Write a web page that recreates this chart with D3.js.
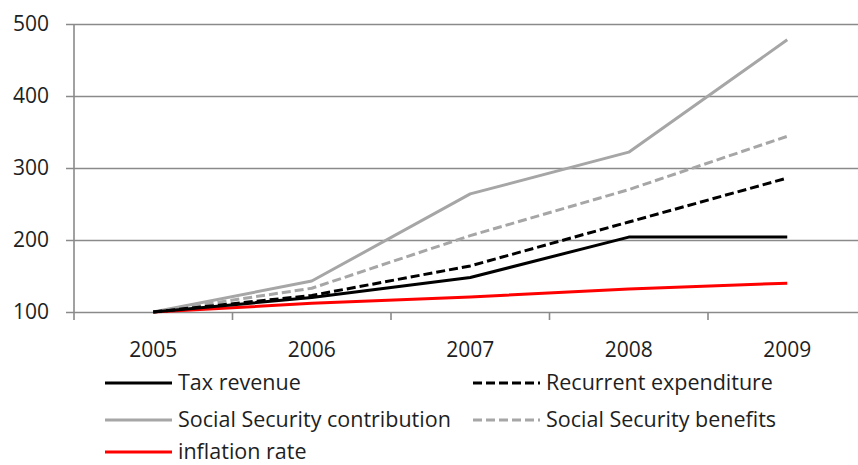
<!DOCTYPE html>
<html>
<head>
<meta charset="utf-8">
<script src="https://cdn.jsdelivr.net/npm/d3@7/dist/d3.min.js"></script>
<style>
  html, body { margin: 0; padding: 0; background: #fff; }
  svg { display: block; }
  text { font-family: "Open Sans", "DejaVu Sans", sans-serif; fill: #1e1e1e; }
</style>
</head>
<body>
<svg id="chart" width="858" height="465"></svg>
<script>
// Years on the category axis
const years = ["2005", "2006", "2007", "2008", "2009"];

// Index values (2005 = 100)
const taxRevenue = [100, 120, 148, 204, 204];
const recurrentExpenditure = [100, 123, 164, 225, 286];
const ssContribution = [100, 143, 264, 322, 478];
const ssBenefits = [100, 133, 206, 270, 344];
const inflationRate = [100, 112, 121, 132, 140];

const yTicks = [100, 200, 300, 400, 500];

const series = [
  { name: "Tax revenue", values: taxRevenue, color: "#000000", dash: null },
  { name: "Recurrent expenditure", values: recurrentExpenditure, color: "#000000", dash: "9,4" },
  { name: "Social Security contribution", values: ssContribution, color: "#a6a6a6", dash: null },
  { name: "Social Security benefits", values: ssBenefits, color: "#a6a6a6", dash: "9,4" },
  { name: "inflation rate", values: inflationRate, color: "#ff0000", dash: null }
];

const svg = d3.select("#chart");
const m = { left: 74, right: 866.5, top: 24, bottom: 312 };

const x = d3.scaleBand().domain(years).range([m.left, m.right]);
const y = d3.scaleLinear().domain([100, 500]).range([m.bottom, m.top]);

// Horizontal gridlines with short tick stubs to the left
const yAxis = d3.axisLeft(y).tickValues(yTicks).tickSize(-(m.right - m.left)).tickPadding(16).tickFormat(d3.format("d"));
const gy = svg.append("g").attr("transform", `translate(${m.left},0)`).call(yAxis);
gy.select(".domain").remove();
gy.selectAll(".tick line").attr("stroke", "#8a8a8a").attr("stroke-width", 1.6).attr("x1", -8);
gy.selectAll(".tick text").attr("font-size", 21).attr("x", -25).style("font-family", "'Open Sans', sans-serif").attr("fill", "#1e1e1e");

// Vertical axis line
svg.append("line").attr("x1", m.left).attr("x2", m.left).attr("y1", m.top).attr("y2", m.bottom + 8)
  .attr("stroke", "#8a8a8a").attr("stroke-width", 1.6);

// Category axis: ticks sit on band boundaries, labels at band centres
const xAxis = d3.axisBottom(x).tickSize(0).tickPadding(30);
const gx = svg.append("g").attr("transform", `translate(0,${m.bottom})`).call(xAxis);
gx.select(".domain").remove();
gx.selectAll(".tick text").attr("font-size", 21).style("font-family", "'Open Sans', sans-serif").attr("fill", "#1e1e1e");
svg.append("g").selectAll("line").data(years)
  .join("line")
  .attr("x1", d => x(d) + x.bandwidth())
  .attr("x2", d => x(d) + x.bandwidth())
  .attr("y1", m.bottom).attr("y2", m.bottom + 8)
  .attr("stroke", "#8a8a8a").attr("stroke-width", 1.6);

// Series lines
const line = d3.line().x((d, i) => x(years[i]) + x.bandwidth() / 2).y(d => y(d));
svg.append("g").selectAll("path").data(series.slice().reverse())
  .join("path")
  .attr("d", d => line(d.values))
  .attr("fill", "none")
  .attr("stroke", d => d.color)
  .attr("stroke-width", 3)
  .attr("stroke-dasharray", d => d.dash)
  .attr("stroke-linejoin", "round");

// Legend, two columns
const legendPos = [
  { lx: 105, ly: 383 }, { lx: 473, ly: 383 },
  { lx: 105, ly: 420 }, { lx: 473, ly: 420 },
  { lx: 105, ly: 452 }
];
const lg = svg.append("g").selectAll("g").data(series).join("g")
  .attr("transform", (d, i) => `translate(${legendPos[i].lx},${legendPos[i].ly})`);
lg.append("line").attr("x1", 0).attr("x2", 67).attr("y1", 0).attr("y2", 0)
  .attr("stroke", d => d.color).attr("stroke-width", 3).attr("stroke-dasharray", d => d.dash);
lg.append("text").attr("x", 73).attr("y", 0).attr("dy", "0.33em").attr("font-size", 21.5).text(d => d.name);
</script>
</body>
</html>
